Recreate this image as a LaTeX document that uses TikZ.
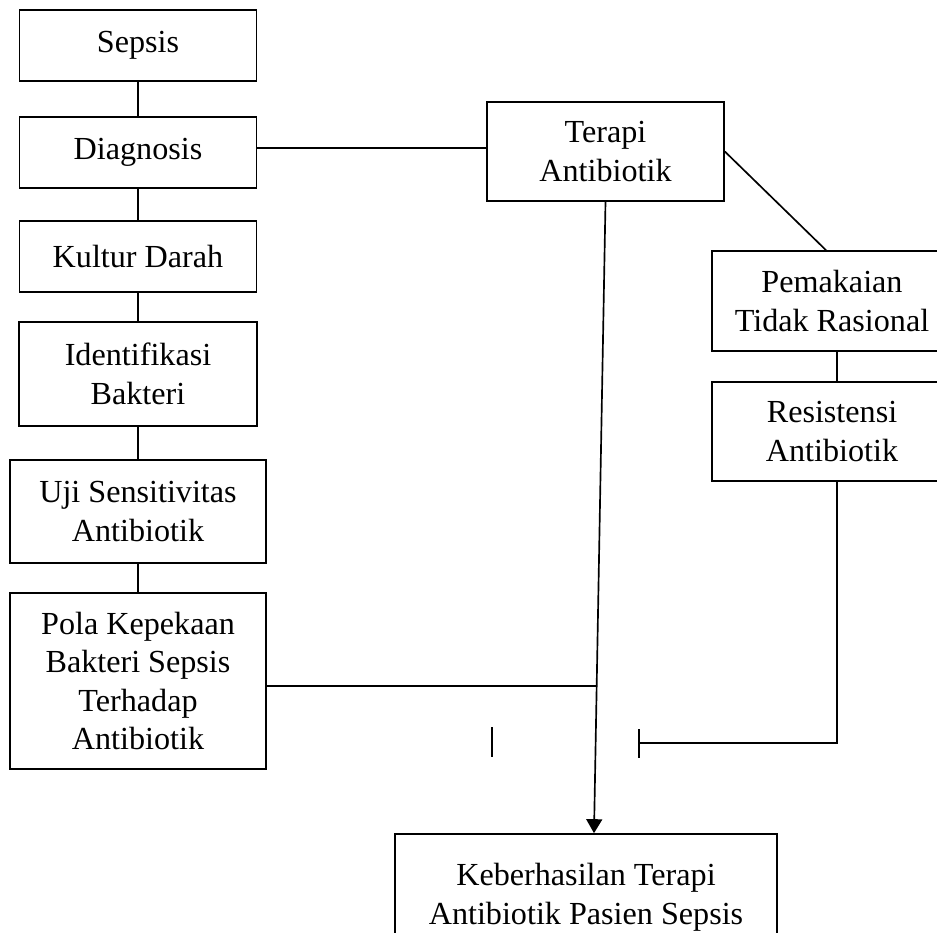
\documentclass[tikz,border=0pt]{standalone}
\usepackage{fontspec}
\setmainfont{Liberation Serif}
\usetikzlibrary{arrows.meta,calc}
\tikzset{
  kotak/.style={draw,align=center,inner sep=0pt,font=\fontsize{18.3}{22}\selectfont},
}
\begin{document}
\begin{tikzpicture}[x=0.02cm,y=-0.02cm,line width=0.95pt]
\useasboundingbox (0,0) rectangle (937,933);
% kolom kiri
\node[kotak,minimum width=4.74cm,minimum height=1.42cm] (sepsis) at (138,45.5) {Sepsis};
\node[kotak,minimum width=4.74cm,minimum height=1.42cm] (diag) at (138,152.5) {Diagnosis};
\node[kotak,minimum width=4.74cm,minimum height=1.42cm] (kultur) at (138,256.5) {Kultur Darah};
\node[kotak,minimum width=4.76cm,minimum height=2.08cm] (ident) at (138,374) {Identifikasi\\Bakteri};
\node[kotak,minimum width=5.12cm,minimum height=2.06cm] (uji) at (138,511.5) {Uji Sensitivitas\\Antibiotik};
\node[kotak,minimum width=5.12cm,minimum height=3.52cm] (pola) at (138,681) {Pola Kepekaan\\Bakteri Sepsis\\Terhadap\\Antibiotik};
% kolom kanan
\node[kotak,minimum width=4.74cm,minimum height=1.98cm] (terapi) at (605.5,151.5) {Terapi\\Antibiotik};
\node[kotak,minimum width=4.8cm,minimum height=2cm] (pakai) at (832,301) {Pemakaian\\Tidak Rasional};
\node[kotak,minimum width=4.8cm,minimum height=1.98cm] (resist) at (832,431.5) {Resistensi\\Antibiotik};
\node[kotak,minimum width=7.64cm,minimum height=2.52cm] (hasil) at (586,897) {Keberhasilan Terapi\\Antibiotik Pasien Sepsis};
%
\draw (sepsis.south) -- (sepsis.south |- diag.north);
\draw (diag.south) -- (diag.south |- kultur.north);
\draw (kultur.south) -- (kultur.south |- ident.north);
\draw (ident.south) -- (ident.south |- uji.north);
\draw (uji.south) -- (uji.south |- pola.north);
\draw ([yshift=0.09cm]diag.east) -- ([yshift=0.09cm]diag.east -| terapi.west);
\draw (terapi.east) -- ([xshift=-0.12cm]pakai.north);
\draw ([xshift=0.1cm]pakai.south) -- ([xshift=0.1cm]resist.north);
%
\coordinate (ujung) at ([xshift=0.16cm]hasil.north);
\coordinate (temu) at ($(terapi.south)!0.766!(ujung)$);
\draw[-{Triangle[width=0.32cm,length=0.28cm]}] (terapi.south) -- (ujung);
\draw ([yshift=-0.1cm]pola.east) -- ([yshift=-0.1cm]pola.east -| temu);
%
\coordinate (henti) at (638,743);
\draw[-{Bar[width=0.58cm]}] ([xshift=0.1cm]resist.south) |- (henti);
\coordinate (bataskiri) at (492,742);
\draw ([yshift=0.3cm]bataskiri) -- ([yshift=-0.3cm]bataskiri);
\end{tikzpicture}
\end{document}
